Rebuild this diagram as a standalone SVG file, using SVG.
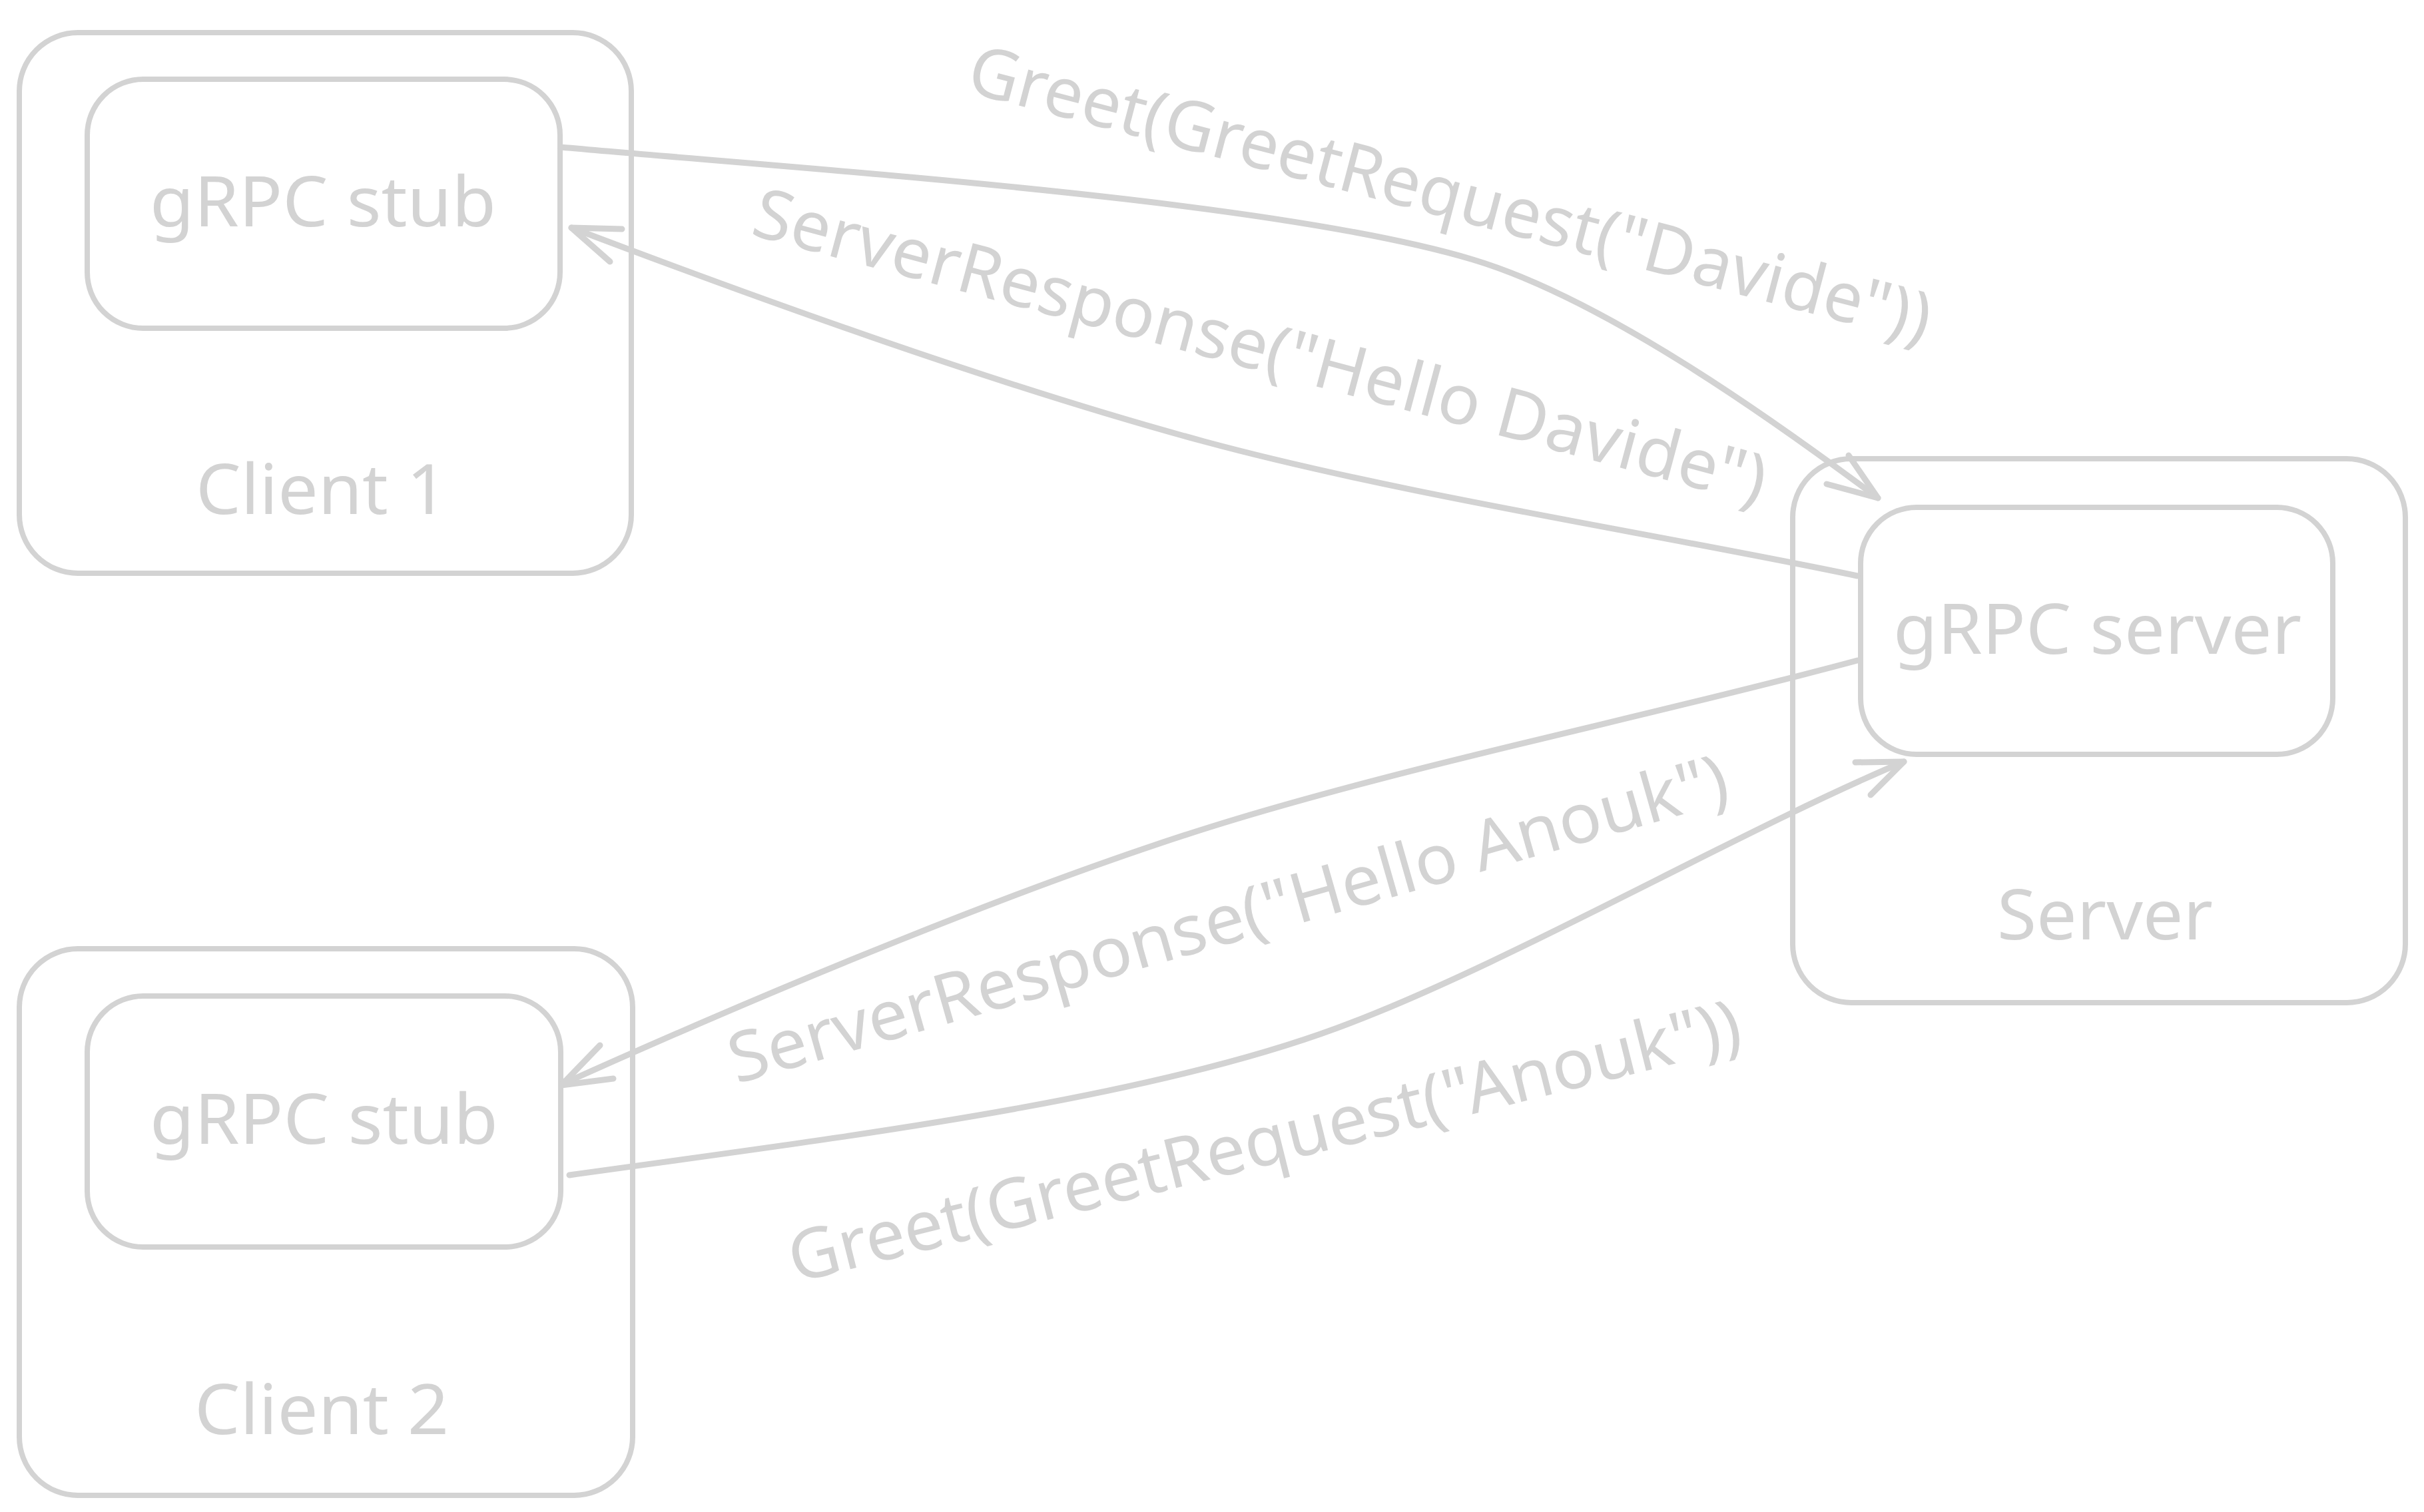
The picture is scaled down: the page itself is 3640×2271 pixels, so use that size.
<svg xmlns="http://www.w3.org/2000/svg" width="3640" height="2271" viewBox="0 0 3640 2271">
<style>
.box{fill:none;stroke:#d3d3d3;stroke-width:8;stroke-linecap:round;stroke-linejoin:round}
.edge{fill:none;stroke:#d3d3d3;stroke-width:9;stroke-linecap:round;stroke-linejoin:round}
.head{fill:none;stroke:#d3d3d3;stroke-width:9;stroke-linecap:round;stroke-linejoin:round}
.lbl{fill:#d3d3d3;font-family:"Noto Sans","Open Sans","Liberation Sans",sans-serif;font-size:104px}
</style>
<rect x="0" y="0" width="3640" height="2271" fill="#ffffff"/>
<g id="client1">
  <rect class="box" x="29" y="49" width="919" height="812" rx="88"/>
  <text class="lbl" x="294" y="772" textLength="378" lengthAdjust="spacingAndGlyphs">Client 1</text>
</g>
<g id="stub1">
  <rect class="box" x="131" y="119" width="710" height="374" rx="84"/>
  <text class="lbl" x="225" y="340" textLength="520" lengthAdjust="spacingAndGlyphs">gRPC stub</text>
</g>
<g id="client2">
  <rect class="box" x="29" y="1425" width="921" height="821" rx="88"/>
  <text class="lbl" x="292" y="2154" textLength="382" lengthAdjust="spacingAndGlyphs">Client 2</text>
</g>
<g id="stub2">
  <rect class="box" x="131" y="1496" width="711" height="377" rx="84"/>
  <text class="lbl" x="225" y="1718" textLength="523" lengthAdjust="spacingAndGlyphs">gRPC stub</text>
</g>
<g id="server">
  <rect class="box" x="2692" y="689" width="920" height="817" rx="88"/>
  <text class="lbl" x="2999" y="1411" textLength="324" lengthAdjust="spacingAndGlyphs">Server</text>
</g>
<g id="grpcserver">
  <rect class="box" x="2794" y="762" width="709" height="371" rx="84"/>
  <text class="lbl" x="2843" y="982" textLength="613" lengthAdjust="spacingAndGlyphs">gRPC server</text>
</g>
<g id="connectors">
  <g id="greet-davide">
    <path class="edge" d="M842,221 C1242,257 1912,300 2212,390 C2412,450 2670,636 2820,748"/>
    <path class="head" d="M2776,684 L2820,748 L2743,727"/>
    <text class="lbl" transform="translate(1448,137) rotate(14.7)" x="0" y="0" textLength="1490" lengthAdjust="spacingAndGlyphs">Greet(GreetRequest("Davide"))</text>
  </g>
  <g id="response-davide">
    <path class="edge" d="M2789,865 C2489,802 2108,744 1808,663 C1508,582 1158,456 858,342"/>
    <path class="head" d="M934,344 L858,342 L916,393"/>
    <text class="lbl" transform="translate(1125,352) rotate(15)" x="0" y="0" textLength="1570" lengthAdjust="spacingAndGlyphs">ServerResponse("Hello Davide")</text>
  </g>
  <g id="response-anouk">
    <path class="edge" d="M2789,992 C2489,1073 2157,1140 1857,1230 C1557,1320 1145,1493 845,1628"/>
    <path class="head" d="M921,1620 L843,1630 L901,1570"/>
    <text class="lbl" transform="translate(1106,1628) rotate(-15.9)" x="0" y="0" textLength="1555" lengthAdjust="spacingAndGlyphs">ServerResponse("Hello Anouk")</text>
  </g>
  <g id="greet-anouk">
    <path class="edge" d="M855,1765 C1255,1709 1708,1655 2008,1544 C2258,1452 2609,1249 2859,1144"/>
    <path class="head" d="M2786,1145 L2859,1144 L2809,1194"/>
    <text class="lbl" transform="translate(1194,1927) rotate(-14)" x="0" y="0" textLength="1470" lengthAdjust="spacingAndGlyphs">Greet(GreetRequest("Anouk"))</text>
  </g>
</g>
</svg>
